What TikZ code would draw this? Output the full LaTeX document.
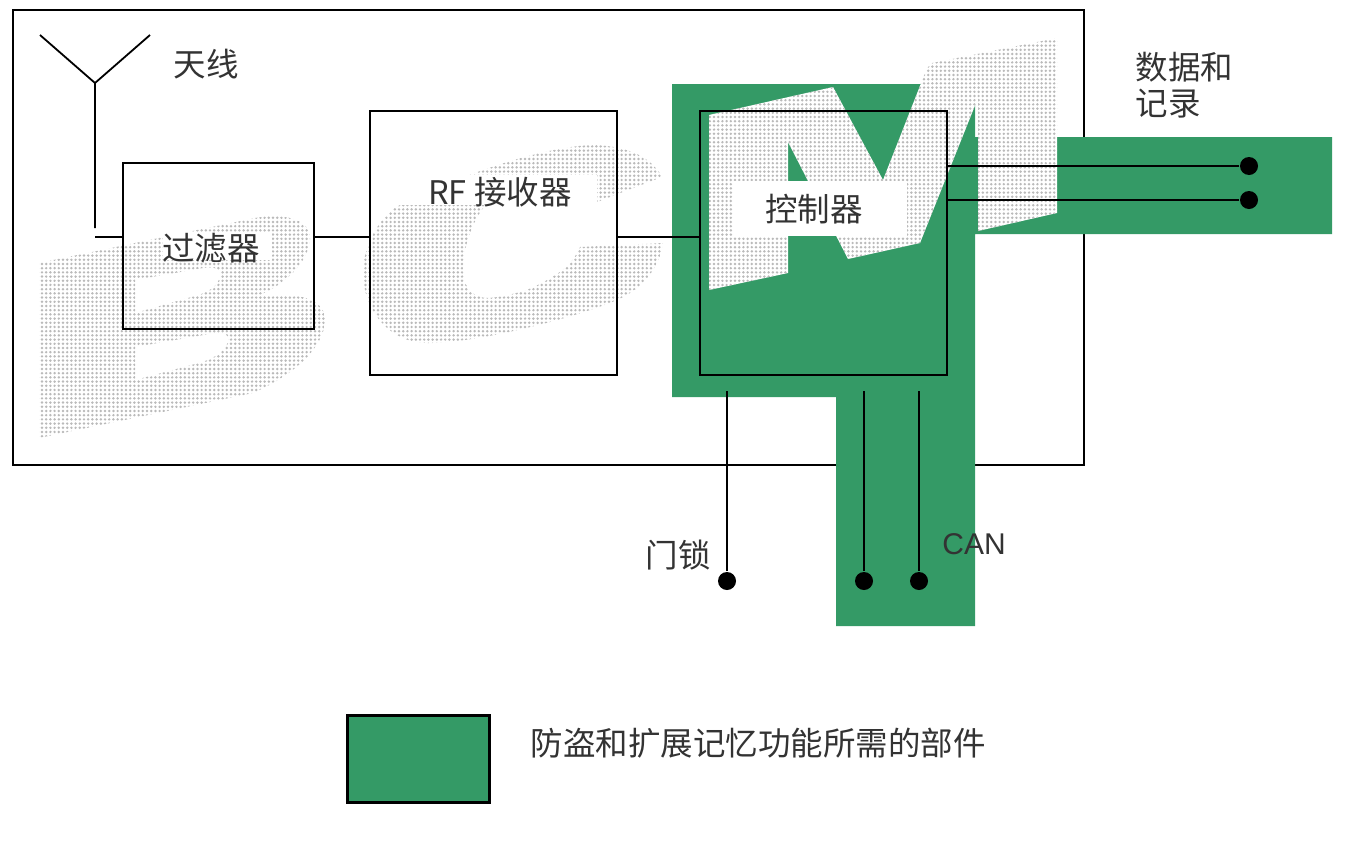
\documentclass[tikz,border=0pt]{standalone}
\usepackage{fontspec}
\setmainfont{Liberation Sans}
\newfontfamily\cjk{Noto Sans CJK SC}
\usetikzlibrary{patterns.meta, calc}

\definecolor{partgreen}{HTML}{349A66}
\definecolor{labelgray}{HTML}{333333}

\begin{document}
\begin{tikzpicture}[
    x=1pt, y=-1pt,
    line width = 1.8pt,
    block/.style={draw, black, rectangle, inner sep=0pt, outer sep=0pt},
    label/.style={labelgray, inner sep=0pt, font=\fontsize{32.5}{36}\selectfont\cjk},
    pin/.style={circle, fill=black, inner sep=0pt, minimum size=18pt},
    letter/.style={fill=white, even odd rule, draw=none,
        postaction={pattern={Dots[distance=4.2pt, radius=1.35pt]}, pattern color=black!27}},
    blank/.style={fill=white, draw=none}
    ]

    % Determines the boundries
    \path[use as bounding box] (0,0) rectangle (1359,852);

    % Heights of the signal wires
    \coordinate (wire)  at (0,237);
    \coordinate (busEnd) at (0,391);

    % Outer module
    \draw[black] (13,10) rectangle (1084,465);

    % Green parts
    \fill[partgreen] (672,84) -- (975,84) -- (975,137) -- (1332,137) -- (1332,234)
        -- (975,234) -- (975,626) -- (836,626) -- (836,397) -- (672,397) -- cycle;

    % Letter B
    \path[letter] (39,438) -- (39,263) -- (255,218)
        .. controls (290,212) and (312,222) .. (310,240)
        .. controls (308,262) and (285,285) .. (259,295) -- (285,295)
        .. controls (312,296) and (326,305) .. (325,322)
        .. controls (323,345) and (300,372) .. (253,393) -- cycle
        (135,280) -- (203,268) .. controls (216,266) and (222,270) .. (220,277)
        .. controls (217,286) and (210,292) .. (195,296) -- (135,313) -- cycle
        (135,347) -- (215,333) .. controls (226,332) and (230,336) .. (228,342)
        .. controls (225,352) and (212,360) .. (195,364) -- (135,380) -- cycle;

    % Letter C
    \path[letter] (662,177) .. controls (650,155) and (625,146) .. (593,145)
        .. controls (550,146) and (470,170) .. (400,205)
        .. controls (380,215) and (364,245) .. (363,270)
        .. controls (362,310) and (390,343) .. (427,343)
        .. controls (470,344) and (570,320) .. (617,300)
        .. controls (645,288) and (660,265) .. (663,243) -- (580,247)
        .. controls (572,265) and (560,275) .. (527,290)
        .. controls (510,295) and (495,298) .. (487,298)
        .. controls (470,297) and (462,285) .. (463,265)
        .. controls (465,240) and (475,215) .. (490,200) -- (597,202) -- cycle;

    % Letter M
    \path[letter] (709,290) -- (709,115) -- (833,87) -- (883,180) -- (927,68)
        -- (932,63) -- (1057,38) -- (1057,213) -- (978,231) -- (978,98) -- (920,243)
        -- (848,259) -- (788,142) -- (788,273) -- cycle;

    % Clears the letters behind the labels
    \fill[blank] (163,232) rectangle (272,260);
    \fill[blank] (400,175) rectangle (597,205);
    \fill[blank] (733,181) rectangle (907,236);

    % Blocks
    \node (filter) at (218.5,246) [block, minimum width=191pt, minimum height=166pt] {};
    \node (rf)     at (493.5,243) [block, minimum width=247pt, minimum height=264pt] {};
    \node (ctrl)   at (823.5,243) [block, minimum width=247pt, minimum height=264pt] {};

    % Antenna
    \coordinate (antL)  at (40,35);
    \coordinate (antR)  at (150,35);
    \coordinate (antM)  at (95,83);
    \coordinate (antF)  at (95,228);
    \coordinate (antW)  at (95,237);
    \draw (antL) -- (antM) -- (antR)
          (antM) -- (antF)
          (antW) -- (filter.west |- wire);

    % Signal path
    \draw (filter.east |- wire) -- (rf.west |- wire)
          (rf.east |- wire) -- (ctrl.west |- wire);

    % Data lines
    \foreach \n/\y in {A/166, B/200}{
        \node (data\n) at (1249,\y) [pin] {};
        \draw (data\n) -- (ctrl.east |- data\n);
    }

    % Lock and bus lines
    \foreach \n/\x in {lock/727, canL/864, canH/919}{
        \node (\n) at (\x,581) [pin] {};
        \draw[line width = 2.5pt] (\n) -- (\n |- busEnd);
    }

    % Labels
    \node (antLabel)  at (206,64)  [label] {天线};
    \node (filtLabel) at (211,248) [label] {过滤器};
    \node (rfLabel)   at (500,192) [label] {RF 接收器};
    \node (ctrlLabel) at (814,209) [label] {控制器};
    \node (dataLabel) at (1135,85) [label, anchor=west, align=left] {数据和\\记录};
    \node (lockLabel) at (678,555) [label] {门锁};
    \node (canLabel)  at (974,544) [label, font=\fontsize{30}{34}\selectfont] {CAN};

    % Legend
    \node (legend) at (418,758.5) [block, fill=partgreen, line width=3pt,
        minimum width=142pt, minimum height=87pt] {};
    \node (legendLabel) at (758,743) [label] {防盗和扩展记忆功能所需的部件};
\end{tikzpicture}
\end{document}
